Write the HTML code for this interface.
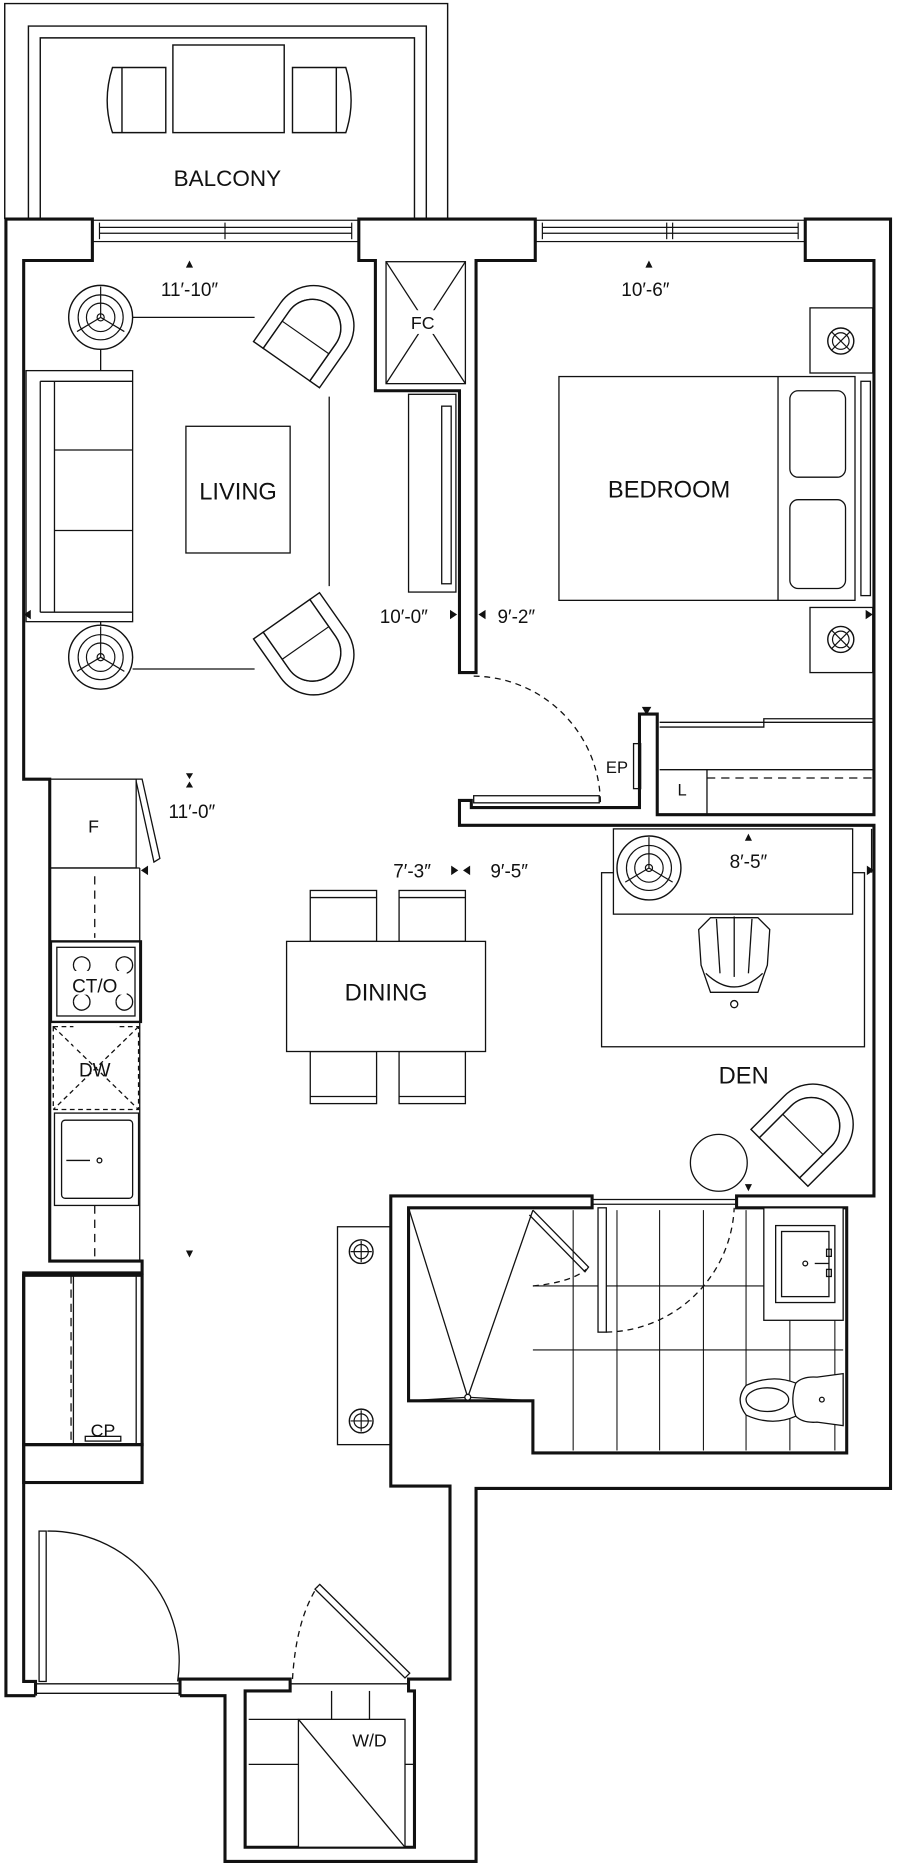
<!DOCTYPE html>
<html><head><meta charset="utf-8"><style>
html,body{margin:0;padding:0;background:#fff;}
svg{display:block;}
text{font-family:"Liberation Sans",sans-serif;fill:#111;}
</style></head><body>
<svg width="900" height="1865" viewBox="0 0 760 1575" preserveAspectRatio="none" xmlns="http://www.w3.org/2000/svg">
<defs>
<g id="chair">
  <path d="M-34,-28 L-34,12 A34,34 0 0 0 34,12 L34,-28 L24,-28 L24,10 A24,24 0 0 1 -24,10 L-24,-28 Z" fill="#fff" stroke="#111" stroke-width="1.2"/>
  <path d="M-24,-28 L-24,10 A24,24 0 0 0 24,10 L24,-28 Z" fill="#fff" stroke="#111" stroke-width="1.2"/>
  <line x1="-24" y1="0" x2="24" y2="0" stroke="#111" stroke-width="1"/>
</g>
<g id="lamp">
  <circle r="27" fill="#fff" stroke="#111" stroke-width="1.2"/>
  <circle r="19" fill="none" stroke="#111" stroke-width="1"/>
  <circle r="12" fill="none" stroke="#111" stroke-width="1"/>
  <circle r="3" fill="none" stroke="#111" stroke-width="1"/>
  <line x1="0" y1="0" x2="0" y2="-26" stroke="#111"/>
  <line x1="0" y1="0" x2="-20" y2="12" stroke="#111"/>
  <line x1="0" y1="0" x2="20" y2="12" stroke="#111"/>
</g>
<g id="xlamp">
  <circle r="11" fill="none" stroke="#111" stroke-width="1.2"/>
  <circle r="7" fill="none" stroke="#111" stroke-width="1"/>
  <line x1="-8" y1="-8" x2="8" y2="8" stroke="#111"/>
  <line x1="-8" y1="8" x2="8" y2="-8" stroke="#111"/>
</g>
<g id="plus">
  <circle r="10" fill="none" stroke="#111" stroke-width="1.2"/>
  <circle r="6" fill="none" stroke="#111" stroke-width="1"/>
  <line x1="-9" y1="0" x2="9" y2="0" stroke="#111"/>
  <line x1="0" y1="-9" x2="0" y2="9" stroke="#111"/>
</g>
</defs>

<!-- BALCONY -->
<g fill="none" stroke="#111" stroke-width="1.2">
  <polyline points="4,185 4,3 378,3 378,185"/>
  <polyline points="24,185 24,22 360,22 360,185"/>
  <polyline points="34,185 34,32 350,32 350,185"/>
  <rect x="146" y="38" width="94" height="74" fill="#fff"/>
  <path d="M140,57 L95,57 Q86,85 95,112 L140,112 Z"/>
  <line x1="103" y1="57" x2="103" y2="112"/>
  <path d="M247,57 L292,57 Q301,85 292,112 L247,112 Z"/>
  <line x1="284" y1="57" x2="284" y2="112"/>
</g>
<text x="192" y="157" font-size="19" text-anchor="middle">BALCONY</text>

<!-- WINDOWS -->
<g fill="none" stroke="#111" stroke-width="1">
  <rect x="78" y="186" width="225" height="18"/>
  <line x1="84" y1="192" x2="297" y2="192"/><line x1="84" y1="197" x2="297" y2="197"/>
  <line x1="84" y1="188" x2="84" y2="202"/><line x1="190" y1="188" x2="190" y2="202"/><line x1="297" y1="188" x2="297" y2="202"/>
  <rect x="452" y="186" width="228" height="18"/>
  <line x1="458" y1="192" x2="674" y2="192"/><line x1="458" y1="197" x2="674" y2="197"/>
  <line x1="458" y1="188" x2="458" y2="202"/><line x1="563" y1="188" x2="563" y2="202"/><line x1="568" y1="188" x2="568" y2="202"/><line x1="674" y1="188" x2="674" y2="202"/>
</g>

<!-- WALLS -->
<g fill="none" stroke="#111" stroke-width="2.6" stroke-linejoin="miter">
  <polyline points="30,1432 5,1432 5,185 78,185 78,220 20,220 20,658 42,658 42,1065 120,1065 120,1075 20,1075 20,1420 30,1420 30,1432"/>
  <rect x="20" y="1077" width="100" height="143"/>
  <rect x="20" y="1220" width="100" height="32"/>
  <polygon points="303,185 452,185 452,220 402,220 402,568 388,568 388,330 317,330 317,220 303,220"/>
  <polyline points="152,1432 190,1432 190,1572 402,1572 402,1257 752,1257 752,185 680,185 680,220 738,220 738,688 555,688 555,603 540,603 540,682 398,682 398,676 388,676 388,697 738,697 738,1010 622,1010 622,1020 715,1020 715,1227 450,1227 450,1183 345,1183 345,1020 500,1020 500,1010 330,1010 330,1255 380,1255 380,1418 345,1418 345,1428 350,1428 350,1560 207,1560 207,1428 245,1428 245,1418 152,1418 152,1432"/>
</g>

<!-- LIVING -->
<g fill="none" stroke="#111" stroke-width="1.1">
  <line x1="112" y1="268" x2="215" y2="268"/>
  <line x1="112" y1="565" x2="215" y2="565"/>
  <line x1="278" y1="335" x2="278" y2="495"/>
  <line x1="85" y1="295" x2="85" y2="313"/><line x1="85" y1="525" x2="85" y2="528"/>
  <rect x="22" y="313" width="90" height="212" fill="#fff"/>
  <line x1="34" y1="322" x2="34" y2="517"/>
  <line x1="34" y1="322" x2="112" y2="322"/><line x1="34" y1="517" x2="112" y2="517"/>
  <line x1="46" y1="322" x2="46" y2="517"/>
  <line x1="46" y1="380" x2="112" y2="380"/><line x1="46" y1="448" x2="112" y2="448"/>
  <rect x="157" y="360" width="88" height="107"/>
  <rect x="345" y="333" width="40" height="167"/>
  <rect x="373" y="343" width="8" height="150"/>
  <rect x="326" y="221" width="67" height="103"/>
  <line x1="326" y1="221" x2="393" y2="324"/><line x1="393" y1="221" x2="326" y2="324"/>
</g>
<rect x="343" y="262" width="30" height="20" fill="#fff"/>
<use href="#lamp" x="85" y="268"/>
<use href="#lamp" x="85" y="555"/>
<g transform="translate(258,285) rotate(-145)"><use href="#chair"/></g>
<g transform="translate(258,543) rotate(-35)"><use href="#chair"/></g>
<text x="357" y="278" font-size="15" text-anchor="middle">FC</text>
<text x="201" y="422" font-size="20" text-anchor="middle">LIVING</text>
<text x="160" y="250" font-size="16" text-anchor="middle">11′-10″</text>
<path d="M157,226 L163,226 L160,220 Z" fill="#111"/>
<text x="341" y="526" font-size="16" text-anchor="middle">10′-0″</text>
<path d="M380,515 L386,519 L380,523 Z" fill="#111"/>
<path d="M410,515 L404,519 L410,523 Z" fill="#111"/>
<text x="436" y="526" font-size="16" text-anchor="middle">9′-2″</text>
<path d="M26,515 L20,519 L26,523 Z" fill="#111"/>

<!-- BEDROOM -->
<g fill="none" stroke="#111" stroke-width="1.1">
  <rect x="472" y="318" width="250" height="189"/>
  <line x1="657" y1="318" x2="657" y2="507"/>
  <rect x="667" y="330" width="47" height="73" rx="7"/>
  <rect x="667" y="422" width="47" height="75" rx="7"/>
  <rect x="727" y="322" width="8" height="181"/>
  <rect x="684" y="260" width="53" height="55"/>
  <rect x="684" y="513" width="53" height="55"/>
  <path d="M400,571 A108,108 0 0 1 507,678" stroke-dasharray="5,4"/>
  <rect x="400" y="672" width="106" height="6"/>
  <line x1="557" y1="610" x2="738" y2="610"/>
  <polyline points="557,614 645,614 645,607 738,607"/>
  <line x1="557" y1="650" x2="738" y2="650"/>
  <line x1="597" y1="657" x2="738" y2="657" stroke-dasharray="7,5"/>
  <line x1="597" y1="650" x2="597" y2="688"/>
  <rect x="535" y="628" width="6" height="38"/>
</g>
<use href="#xlamp" x="710" y="288"/>
<use href="#xlamp" x="710" y="540"/>
<text x="565" y="420" font-size="20" text-anchor="middle">BEDROOM</text>
<text x="545" y="250" font-size="16" text-anchor="middle">10′-6″</text>
<path d="M545,226 L551,226 L548,220 Z" fill="#111"/>
<path d="M731,515 L737,519 L731,523 Z" fill="#111"/>
<text x="521" y="653" font-size="14" text-anchor="middle">EP</text>
<path d="M542,597 L550,597 L546,604 Z" fill="#111"/>
<text x="576" y="672" font-size="14" text-anchor="middle">L</text>

<!-- KITCHEN -->
<g fill="none" stroke="#111" stroke-width="1.1">
  <rect x="42" y="658" width="73" height="75"/>
  <polyline points="115,658 120,658 135,725 130,728 115,660"/>
  <line x1="118" y1="733" x2="118" y2="1065"/>
  <line x1="42" y1="733" x2="118" y2="733"/>
  <line x1="80" y1="740" x2="80" y2="792" stroke-dasharray="7,5"/>
  <line x1="80" y1="1018" x2="80" y2="1065" stroke-dasharray="7,5"/>
  <rect x="43" y="795" width="76" height="68" stroke-width="2"/>
  <rect x="48" y="800" width="66" height="58"/>
  <path d="M62,815 a7,7 0 1 1 0,0.1 M98,815 a7,7 0 1 1 0,0.1 M62,846 a7,7 0 1 1 0,0.1 M98,846 a7,7 0 1 1 0,0.1"/>
  <rect x="45" y="867" width="72" height="70" stroke-dasharray="4,3"/>
  <line x1="45" y1="867" x2="117" y2="937" stroke-dasharray="4,3"/>
  <line x1="117" y1="867" x2="45" y2="937" stroke-dasharray="4,3"/>
  <rect x="46" y="940" width="71" height="78"/>
  <rect x="52" y="946" width="60" height="66" rx="3"/>
  <line x1="56" y1="980" x2="76" y2="980"/>
  <circle cx="84" cy="980" r="2"/>
  <line x1="60" y1="1077" x2="60" y2="1220" stroke-dasharray="7,5"/>
  <line x1="62" y1="1077" x2="62" y2="1220"/>
  <line x1="115" y1="1077" x2="115" y2="1220"/>
  <rect x="72" y="1213" width="30" height="4"/>
</g>
<rect x="62" y="865" width="36" height="20" fill="#fff"/>
<rect x="53" y="820" width="54" height="20" fill="#fff"/>
<text x="79" y="703" font-size="15" text-anchor="middle">F</text>
<text x="80" y="838" font-size="16" text-anchor="middle">CT/O</text>
<text x="80" y="909" font-size="16" text-anchor="middle">DW</text>
<text x="87" y="1213" font-size="15" text-anchor="middle">CP</text>
<text x="162" y="691" font-size="16" text-anchor="middle">11′-0″</text>
<path d="M157,653 L163,653 L160,658 Z M157,665 L163,665 L160,660 Z" fill="#111"/>
<path d="M125,731 L119,735 L125,739 Z" fill="#111"/>
<path d="M157,1056 L163,1056 L160,1062 Z" fill="#111"/>

<!-- DINING -->
<g fill="none" stroke="#111" stroke-width="1.1">
  <rect x="262" y="752" width="56" height="43"/><line x1="262" y1="758" x2="318" y2="758"/>
  <rect x="337" y="752" width="56" height="43"/><line x1="337" y1="758" x2="393" y2="758"/>
  <rect x="262" y="888" width="56" height="44"/><line x1="262" y1="926" x2="318" y2="926"/>
  <rect x="337" y="888" width="56" height="44"/><line x1="337" y1="926" x2="393" y2="926"/>
  <rect x="242" y="795" width="168" height="93" fill="#fff"/>
</g>
<text x="326" y="845" font-size="20" text-anchor="middle">DINING</text>
<text x="348" y="741" font-size="16" text-anchor="middle">7′-3″</text>
<path d="M381,731 L387,735 L381,739 Z M397,731 L391,735 L397,739 Z" fill="#111"/>
<text x="430" y="741" font-size="16" text-anchor="middle">9′-5″</text>

<!-- DEN -->
<g fill="none" stroke="#111" stroke-width="1.1">
  <rect x="508" y="737" width="222" height="147"/>
  <rect x="518" y="700" width="202" height="72" fill="#fff"/>
  <path d="M590,785 L600,775 L640,775 L650,785 L648,815 L640,838 L600,838 L592,815 Z" fill="#fff"/>
  <line x1="605" y1="776" x2="608" y2="822"/><line x1="620" y1="774" x2="620" y2="825"/><line x1="635" y1="776" x2="632" y2="822"/>
  <path d="M596,822 Q620,845 644,822"/>
  <circle cx="620" cy="848" r="3"/>
  <circle cx="607" cy="982" r="24"/>
  <line x1="736" y1="700" x2="736" y2="737"/>
</g>
<use href="#lamp" x="548" y="733"/>
<g transform="translate(678,958) rotate(-135)"><use href="#chair"/></g>
<text x="632" y="733" font-size="16" text-anchor="middle">8′-5″</text>
<path d="M629,710 L635,710 L632,704 Z" fill="#111"/>
<path d="M732,731 L738,735 L732,739 Z" fill="#111"/>
<text x="628" y="915" font-size="20" text-anchor="middle">DEN</text>
<path d="M629,1000 L635,1000 L632,1006 Z" fill="#111"/>

<!-- BATHROOM -->
<g fill="none" stroke="#111" stroke-width="0.9">
  <line x1="484" y1="1022" x2="484" y2="1225"/><line x1="521" y1="1022" x2="521" y2="1225"/>
  <line x1="557" y1="1022" x2="557" y2="1225"/><line x1="594" y1="1022" x2="594" y2="1225"/>
  <line x1="630" y1="1022" x2="630" y2="1225"/><line x1="667" y1="1115" x2="667" y2="1225"/><line x1="705" y1="1115" x2="705" y2="1225"/>
  <line x1="450" y1="1086" x2="645" y2="1086"/><line x1="450" y1="1140" x2="712" y2="1140"/>
</g>
<g fill="none" stroke="#111" stroke-width="1.1">
  <line x1="345" y1="1020" x2="395" y2="1180"/><line x1="450" y1="1022" x2="395" y2="1180"/><line x1="345" y1="1183" x2="395" y2="1180"/><line x1="450" y1="1183" x2="395" y2="1180"/>
  <circle cx="395" cy="1180" r="2.5" fill="#fff"/>
  <path d="M450,1022 L497,1070 L494,1074 L447,1026"/>
  <path d="M450,1086 Q482,1083 495,1072" stroke-dasharray="5,4"/>
  <rect x="505" y="1020" width="7" height="105" fill="#fff"/>
  <path d="M512,1125 A110,110 0 0 0 620,1020" stroke-dasharray="5,4"/>
  <line x1="500" y1="1013" x2="622" y2="1013"/><line x1="500" y1="1017" x2="622" y2="1017"/>
  <rect x="645" y="1020" width="67" height="95" fill="#fff"/>
  <rect x="655" y="1035" width="50" height="65"/>
  <rect x="660" y="1040" width="40" height="55"/>
  <circle cx="680" cy="1067" r="2"/><line x1="688" y1="1067" x2="700" y2="1067"/>
  <rect x="698" y="1055" width="4" height="6"/><rect x="698" y="1072" width="4" height="6"/>
  <path d="M712,1160 L690,1163 Q678,1162 672,1168 Q652,1160 630,1170 Q620,1182 630,1195 Q652,1205 672,1196 Q678,1202 690,1201 L712,1204 Z" fill="#fff"/>
  <path d="M672,1168 Q667,1182 672,1196"/>
  <ellipse cx="648" cy="1182" rx="18" ry="10"/>
  <circle cx="694" cy="1182" r="2"/>
  <rect x="285" y="1036" width="45" height="184"/>
</g>
<use href="#plus" x="305" y="1057"/>
<use href="#plus" x="305" y="1200"/>

<!-- ENTRY / W/D -->
<g fill="none" stroke="#111" stroke-width="1.1">
  <rect x="33" y="1293" width="6" height="127"/>
  <path d="M40,1293 A110,110 0 0 1 150,1420"/>
  <line x1="30" y1="1422" x2="152" y2="1422"/><line x1="30" y1="1430" x2="152" y2="1430"/>
  <path d="M270,1338 L346,1413 L342,1417 L266,1342 Z" fill="#fff"/>
  <path d="M247,1418 Q250,1368 268,1340" stroke-dasharray="5,4"/>
  <line x1="245" y1="1422" x2="345" y2="1422"/>
  <line x1="210" y1="1490" x2="252" y2="1490"/><line x1="342" y1="1490" x2="350" y2="1490"/>
  <line x1="280" y1="1428" x2="280" y2="1452"/><line x1="312" y1="1428" x2="312" y2="1452"/>
  <line x1="210" y1="1452" x2="252" y2="1452"/>
  <rect x="252" y="1452" width="90" height="108" fill="#fff"/>
  <line x1="252" y1="1452" x2="342" y2="1560"/>
</g>
<text x="312" y="1475" font-size="15" text-anchor="middle">W/D</text>
</svg>
</body></html>
